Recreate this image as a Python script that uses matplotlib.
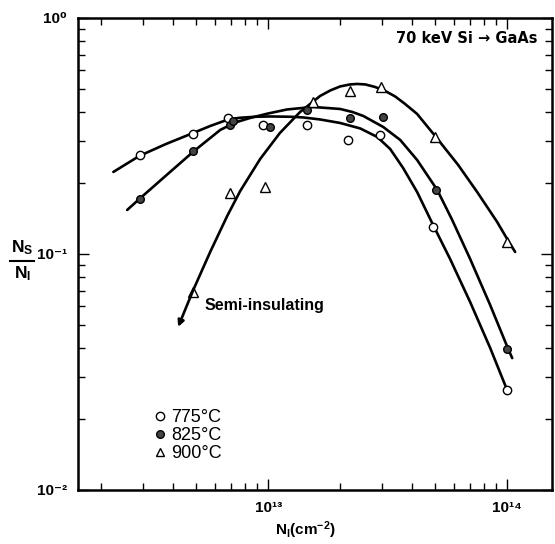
import matplotlib
matplotlib.use("Agg")
import matplotlib.pyplot as plt
from matplotlib.ticker import FixedLocator, FixedFormatter, LogLocator, NullFormatter
from matplotlib.lines import Line2D

plt.rcParams['font.family'] = ['Liberation Sans', 'DejaVu Sans']
plt.rcParams['mathtext.fontset'] = 'custom'
plt.rcParams['mathtext.rm'] = 'Liberation Sans'
plt.rcParams['mathtext.bf'] = 'Liberation Sans:bold'

# measured points: implanted dose (cm^-2) vs activation fraction Ns/NI
dose_775 = [2.9e12, 4.85e12, 6.8e12, 9.55e12, 1.46e13, 2.16e13, 2.94e13, 4.9e13, 1.0e14]
frac_775 = [0.263, 0.322, 0.377, 0.352, 0.352, 0.304, 0.319, 0.13, 0.0265]

dose_825 = [2.9e12, 4.87e12, 6.9e12, 7.15e12, 1.02e13, 1.46e13, 2.2e13, 3.03e13, 5.05e13, 1.0e14]
frac_825 = [0.171, 0.273, 0.352, 0.366, 0.345, 0.408, 0.377, 0.38, 0.187, 0.0396]

dose_900 = [4.85e12, 6.9e12, 9.7e12, 1.54e13, 2.19e13, 2.96e13, 5.0e13, 1.0e14]
frac_900 = [0.069, 0.181, 0.192, 0.44, 0.49, 0.51, 0.313, 0.1127]

# hand-drawn fit curves through each set
fit_x_775 = [2.25e12, 2.89e12, 3.74e12, 4.86e12, 5.72e12, 6.8e12, 7.64e12, 8.82e12, 1.02e13,
             1.24e13, 1.4e13, 1.65e13, 2.0e13, 2.43e13, 2.86e13, 3.24e13, 3.67e13, 4.2e13,
             4.9e13, 5.77e13, 7.0e13, 8.49e13, 1.0e14]
fit_y_775 = [0.2226, 0.2602, 0.2925, 0.3257, 0.3485, 0.3714, 0.3777, 0.3814, 0.3825,
             0.3814, 0.3789, 0.3714, 0.359, 0.3402, 0.3132, 0.2785, 0.2314, 0.1831,
             0.1327, 0.0953, 0.0626, 0.04, 0.0265]

fit_x_825 = [2.57e12, 2.89e12, 3.74e12, 4.9e12, 6.3e12, 7.28e12, 8.41e12, 1.0e13, 1.2e13,
             1.54e13, 2.0e13, 2.25e13, 2.5e13, 3.03e13, 3.57e13, 4.2e13, 5.1e13, 5.89e13,
             7.0e13, 8.49e13, 1.01e14, 1.05e14]
fit_y_825 = [0.1536, 0.171, 0.2151, 0.2732, 0.3353, 0.3607, 0.377, 0.3938, 0.4095,
             0.4197, 0.4115, 0.3996, 0.3844, 0.3452, 0.3041, 0.2502, 0.1867, 0.1393,
             0.0953, 0.0608, 0.0396, 0.0362]

fit_x_900 = [4.2e12, 4.86e12, 5.72e12, 6.74e12, 7.64e12, 9.26e12, 1.12e13, 1.36e13, 1.65e13,
             1.82e13, 2.0e13, 2.2e13, 2.36e13, 2.55e13, 2.8e13, 3.09e13, 3.4e13, 3.74e13,
             4.2e13, 5.0e13, 6.24e13, 7.49e13, 9.08e13, 1.0e14, 1.08e14]
fit_y_900 = [0.0491, 0.0704, 0.102, 0.1449, 0.1849, 0.2527, 0.3257, 0.3996, 0.4672,
             0.493, 0.5126, 0.5227, 0.5253, 0.5227, 0.5101, 0.4904, 0.4649, 0.4321,
             0.392, 0.316, 0.2382, 0.1831, 0.1367, 0.1158, 0.102]

fig = plt.figure(figsize=(5.55, 5.44), dpi=100)
ax = fig.add_axes([0.1405, 0.0993, 0.854, 0.8677])

ax.set_xscale('log')
ax.set_yscale('log')
ax.set_xlim(1.6e12, 1.54e14)
ax.set_ylim(1e-2, 1.0)

lw = 1.9
line_kw = dict(color='black', lw=lw, solid_joinstyle='round', solid_capstyle='round')
ax.plot(fit_x_775, fit_y_775, **line_kw)
ax.plot(fit_x_825, fit_y_825, **line_kw)
ax.plot(fit_x_900[1:], fit_y_900[1:], **line_kw)
ax.annotate('', xy=(fit_x_900[0], fit_y_900[0]), xytext=(fit_x_900[1], fit_y_900[1]),
            arrowprops=dict(arrowstyle='-|>', color='black', lw=lw, mutation_scale=9,
                            shrinkA=0, shrinkB=0))

ax.plot(dose_775, frac_775, 'o', ms=6, mfc='white', mec='black', mew=1.0)
ax.plot(dose_825, frac_825, 'o', ms=5.5, mfc='#444444', mec='black', mew=1.0)
ax.plot(dose_900, frac_900, '^', ms=7, mfc='white', mec='black', mew=1.0)

# axis ticks, all pointing inward
ax.tick_params(which='both', direction='in', top=True, right=True, width=1.0)
ax.tick_params(which='major', length=8)
ax.tick_params(which='minor', length=5)
ax.xaxis.set_major_locator(FixedLocator([1e13, 1e14]))
ax.xaxis.set_major_formatter(FixedFormatter(['10¹³', '10¹⁴']))
ax.xaxis.set_minor_locator(LogLocator(base=10, subs=range(2, 10)))
ax.xaxis.set_minor_formatter(NullFormatter())
ax.yaxis.set_major_locator(FixedLocator([1e-2, 1e-1, 1.0]))
ax.yaxis.set_major_formatter(FixedFormatter(['10⁻²', '10⁻¹', '10⁰']))
ax.yaxis.set_minor_locator(LogLocator(base=10, subs=range(2, 10)))
ax.yaxis.set_minor_formatter(NullFormatter())
for lab in ax.get_xticklabels() + ax.get_yticklabels():
    lab.set_fontsize(11)
    lab.set_fontweight('bold')
ax.tick_params(axis='x', pad=8)
ax.tick_params(axis='y', pad=8)
for sp in ax.spines.values():
    sp.set_linewidth(1.8)

ax.text(0.970, 0.972, '70 keV Si → GaAs', transform=ax.transAxes, family=['DejaVu Sans'],
        ha='right', va='top', fontsize=10.5, fontweight='bold')
ax.text(0.268, 0.39, 'Semi-insulating', transform=ax.transAxes, ha='left', va='center',
        fontsize=11.5, fontweight='bold')

handles = [
    Line2D([], [], ls='none', marker='o', ms=6, mfc='white', mec='black', mew=1.0),
    Line2D([], [], ls='none', marker='o', ms=5.5, mfc='#444444', mec='black', mew=1.0),
    Line2D([], [], ls='none', marker='^', ms=6, mfc='white', mec='black', mew=1.0),
]
ax.legend(handles, ['775°C', '825°C', '900°C'], loc='upper left',
          bbox_to_anchor=(0.142, 0.19), frameon=False, fontsize=13,
          handlelength=0.6, handletextpad=0.35, labelspacing=0.05, borderpad=0)

# stacked Ns / NI label
fig.text(0.040, 0.528, r'$\mathbf{N_S}$', ha='center', va='bottom', fontsize=12.5)
fig.add_artist(Line2D([0.018, 0.062], [0.521, 0.521], color='black', lw=1.5,
                      transform=fig.transFigure))
fig.text(0.040, 0.514, r'$\mathbf{N_I}$', ha='center', va='top', fontsize=12.5)

fig.text(0.55, 0.026, r'$\mathbf{N_I(cm^{-2})}$', ha='center', va='center', fontsize=11)

fig.savefig('out.png', dpi=100)
